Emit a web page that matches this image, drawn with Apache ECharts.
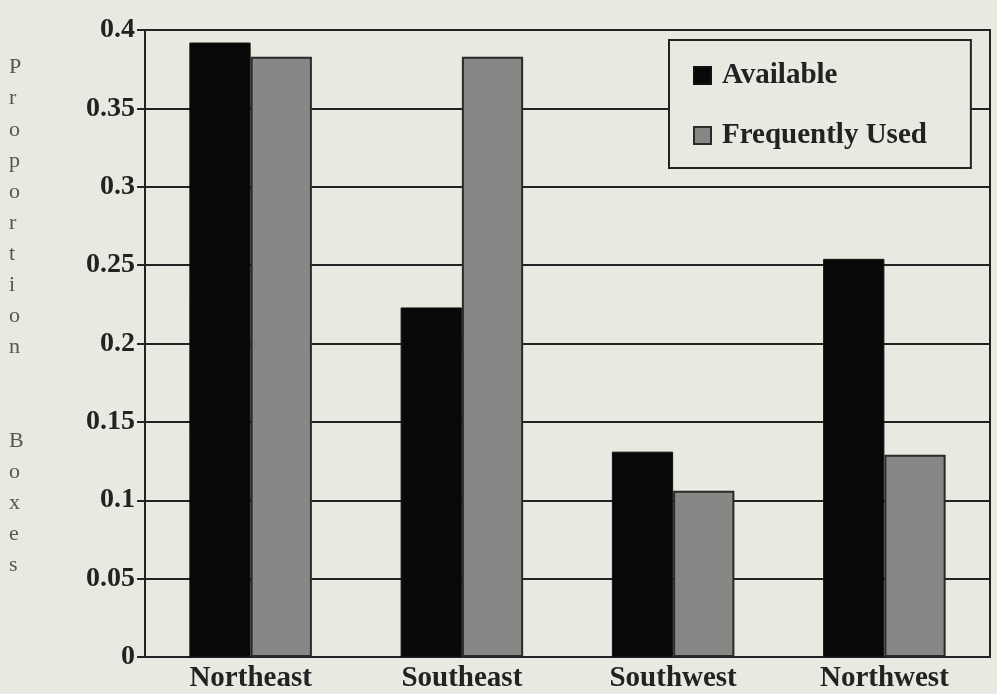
<!DOCTYPE html>
<html>
<head>
<meta charset="utf-8">
<script src="https://cdn.jsdelivr.net/npm/echarts@6/dist/echarts.min.js"></script>
<style>
html,body{margin:0;padding:0;background:#e9e8e1;}
#chart{width:997px;height:694px;}
</style>
</head>
<body>
<div id="chart"></div>
<script>
const categories = ['Northeast', 'Southeast', 'Southwest', 'Northwest'];
const available = [0.392, 0.223, 0.131, 0.254];
const frequentlyUsed = [0.383, 0.383, 0.106, 0.129];
const yTicks = [0, 0.05, 0.1, 0.15, 0.2, 0.25, 0.3, 0.35, 0.4];
const yTitle = 'Proportion Boxes';

const font = '"Liberation Serif", "Times New Roman", serif';
const chart = echarts.init(document.getElementById('chart'));
chart.setOption({
  backgroundColor: '#e9e8e1',
  animation: false,
  grid: {left: 145, right: 7, top: 30, bottom: 37, show: true, borderColor: '#222', borderWidth: 2, backgroundColor: '#e9e8e1'},
  legend: {
    orient: 'vertical', left: 669, top: 40,
    icon: 'rect',
    itemWidth: 17, itemHeight: 17, itemGap: 31, padding: [21, 44, 18, 24],
    borderColor: '#222', borderWidth: 2, backgroundColor: '#e9e8e1',
    textStyle: {fontFamily: font, fontWeight: 'bold', fontSize: 29, color: '#222', padding: [0, 0, 0, 6]},
    data: ['Available', 'Frequently Used']
  },
  graphic: [{
    type: 'text', left: 9, top: 52,
    style: {text: yTitle.split(' ').map(w => w.split('').join('\n')).join('\n\n\n'), fontFamily: font, fontSize: 22, lineHeight: 31.1, fill: '#555', align: 'center'}
  }],
  xAxis: {
    type: 'category', data: categories,
    axisLine: {lineStyle: {color: '#222', width: 2}},
    axisTick: {show: false},
    axisLabel: {fontFamily: font, fontWeight: 'bold', fontSize: 29, color: '#222', margin: 7}
  },
  yAxis: {
    type: 'value', min: 0, max: 0.4, interval: 0.05,
    axisLine: {show: true, lineStyle: {color: '#222', width: 2}},
    axisTick: {show: true, length: 8, lineStyle: {color: '#222', width: 2}},
    splitLine: {lineStyle: {color: '#222', width: 2}},
    axisLabel: {fontFamily: font, fontWeight: 'bold', fontSize: 28, color: '#222', margin: 10,
      formatter: v => { const t = yTicks.find(x => Math.abs(x - v) < 1e-9); return String(t); }}
  },
  series: [
    {name: 'Available', type: 'bar', data: available, barGap: '0%', barCategoryGap: '42%',
      itemStyle: {color: '#080808', borderColor: '#111', borderWidth: 1}},
    {name: 'Frequently Used', type: 'bar', data: frequentlyUsed,
      itemStyle: {color: '#878785', borderColor: '#2a2a2a', borderWidth: 2}}
  ]
});
</script>
</body>
</html>
